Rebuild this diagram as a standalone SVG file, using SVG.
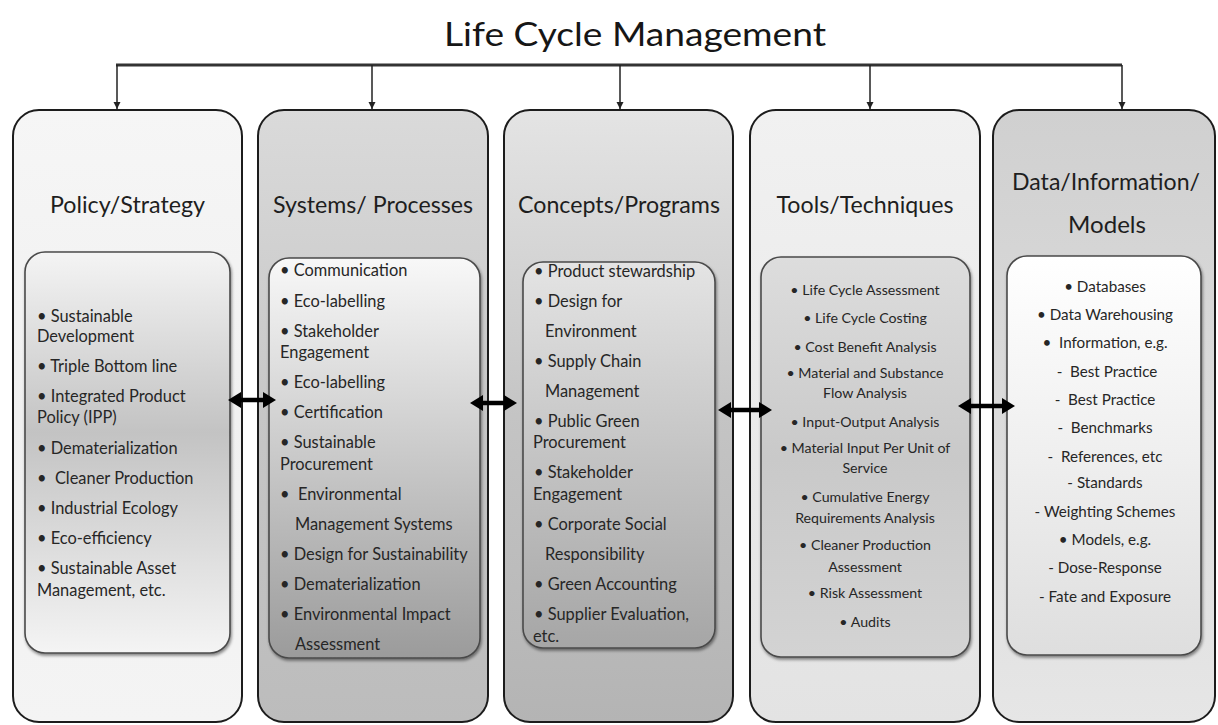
<svg xmlns="http://www.w3.org/2000/svg" width="1218" height="725" viewBox="0 0 1218 725">
<style>
text{font-family:Lato,"Open Sans","Liberation Sans",sans-serif;fill:#262626}
.title{font-size:33px;fill:#161616}
.hd{font-size:24px;text-anchor:middle;fill:#1e1e1e}
.b{font-size:16.4px}
.b4{font-size:14.2px;text-anchor:middle}
.b5{font-size:15.2px;text-anchor:middle}
.outer{stroke:#1c1c1c;stroke-width:2}
.inner{stroke:#4a4a4a;stroke-width:1.6;filter:url(#sh)}
.bus{stroke:#333;stroke-width:3;fill:none}
.drop{stroke:#222;stroke-width:1.5;fill:none;marker-end:url(#ah)}
.dbl{stroke:#000;stroke-width:4.5;fill:none;marker-start:url(#big);marker-end:url(#big)}
</style>
<defs>
<marker id="ah" markerWidth="8" markerHeight="8" refX="7" refY="4" orient="auto" markerUnits="userSpaceOnUse"><path d="M0,0.5 L7,4 L0,7.5 z" fill="#222"/></marker>
<marker id="big" markerWidth="14" markerHeight="16" refX="3" refY="8" orient="auto-start-reverse" markerUnits="userSpaceOnUse"><path d="M0,0 L13,8 L0,16 z" fill="#000"/></marker>
<filter id="sh" x="-10%" y="-10%" width="120%" height="120%"><feDropShadow dx="1" dy="2" stdDeviation="1.5" flood-color="#000" flood-opacity="0.45"/></filter>
<linearGradient id="g1o" x1="0" y1="0" x2="0" y2="1"><stop offset="0" stop-color="#f6f6f6"/><stop offset="0.5" stop-color="#f0f0f0"/><stop offset="1" stop-color="#f4f4f4"/></linearGradient>
<linearGradient id="g2o" x1="0" y1="0" x2="0" y2="1"><stop offset="0" stop-color="#dadada"/><stop offset="0.5" stop-color="#c6c6c6"/><stop offset="1" stop-color="#bcbcbc"/></linearGradient>
<linearGradient id="g3o" x1="0" y1="0" x2="0" y2="1"><stop offset="0" stop-color="#e4e4e4"/><stop offset="0.5" stop-color="#c4c4c4"/><stop offset="1" stop-color="#b4b4b4"/></linearGradient>
<linearGradient id="g4o" x1="0" y1="0" x2="0" y2="1"><stop offset="0" stop-color="#f1f1f1"/><stop offset="0.5" stop-color="#eaeaea"/><stop offset="1" stop-color="#e3e3e3"/></linearGradient>
<linearGradient id="g5o" x1="0" y1="0" x2="0" y2="1"><stop offset="0" stop-color="#d0d0d0"/><stop offset="0.5" stop-color="#dbdbdb"/><stop offset="1" stop-color="#e6e6e6"/></linearGradient>
<linearGradient id="g1i" x1="0" y1="0" x2="0" y2="1"><stop offset="0" stop-color="#f4f4f4"/><stop offset="0.45" stop-color="#c3c3c3"/><stop offset="1" stop-color="#f4f4f4"/></linearGradient>
<linearGradient id="g2i" x1="0" y1="0" x2="0" y2="1"><stop offset="0" stop-color="#f8f8f8"/><stop offset="0.5" stop-color="#c9c9c9"/><stop offset="1" stop-color="#9b9b9b"/></linearGradient>
<linearGradient id="g3i" x1="0" y1="0" x2="0" y2="1"><stop offset="0" stop-color="#e4e4e4"/><stop offset="0.5" stop-color="#c4c4c4"/><stop offset="1" stop-color="#a6a6a6"/></linearGradient>
<linearGradient id="g4i" x1="0" y1="0" x2="0" y2="1"><stop offset="0" stop-color="#dddddd"/><stop offset="0.5" stop-color="#c9c9c9"/><stop offset="1" stop-color="#d3d3d3"/></linearGradient>
<linearGradient id="g5i" x1="0" y1="0" x2="0" y2="1"><stop offset="0" stop-color="#ffffff"/><stop offset="0.5" stop-color="#efefef"/><stop offset="1" stop-color="#dedede"/></linearGradient>
</defs>
<rect width="1218" height="725" fill="#ffffff"/>

<g id="title">
<text class="title" x="635" y="46" text-anchor="middle" textLength="382" lengthAdjust="spacingAndGlyphs">Life Cycle Management</text>
</g>

<g id="policy-strategy">
<rect class="outer" x="13" y="110" width="229" height="612" rx="26" fill="url(#g1o)"/>
<text class="hd" x="127.5" y="213" textLength="155" lengthAdjust="spacingAndGlyphs">Policy/Strategy</text>
<rect class="inner" x="25" y="252" width="205" height="401" rx="20" fill="url(#g1i)"/>
<text class="b" x="37" y="322">• Sustainable</text>
<text class="b" x="37" y="342">Development</text>
<text class="b" x="37" y="372">• Triple Bottom line</text>
<text class="b" x="37" y="402">• Integrated Product</text>
<text class="b" x="37" y="423">Policy (IPP)</text>
<text class="b" x="37" y="454">• Dematerialization</text>
<text class="b" x="37" y="484" xml:space="preserve">•  Cleaner Production</text>
<text class="b" x="37" y="514">• Industrial Ecology</text>
<text class="b" x="37" y="544">• Eco-efficiency</text>
<text class="b" x="37" y="574">• Sustainable Asset</text>
<text class="b" x="37" y="596">Management, etc.</text>
</g>

<g id="systems-processes">
<rect class="outer" x="258" y="110" width="230" height="612" rx="26" fill="url(#g2o)"/>
<text class="hd" x="373" y="213" textLength="200" lengthAdjust="spacingAndGlyphs">Systems/ Processes</text>
<rect class="inner" x="269" y="258" width="211" height="400" rx="20" fill="url(#g2i)"/>
<text class="b" x="280" y="276">• Communication</text>
<text class="b" x="280" y="307">• Eco-labelling</text>
<text class="b" x="280" y="337">• Stakeholder</text>
<text class="b" x="280" y="358">Engagement</text>
<text class="b" x="280" y="388">• Eco-labelling</text>
<text class="b" x="280" y="418">• Certification</text>
<text class="b" x="280" y="448">• Sustainable</text>
<text class="b" x="280" y="470">Procurement</text>
<text class="b" x="280" y="500" xml:space="preserve">•  Environmental</text>
<text class="b" x="295" y="530">Management Systems</text>
<text class="b" x="280" y="560">• Design for Sustainability</text>
<text class="b" x="280" y="590">• Dematerialization</text>
<text class="b" x="280" y="620">• Environmental Impact</text>
<text class="b" x="295" y="650">Assessment</text>
</g>

<g id="concepts-programs">
<rect class="outer" x="504" y="110" width="229" height="612" rx="26" fill="url(#g3o)"/>
<text class="hd" x="619" y="213" textLength="202" lengthAdjust="spacingAndGlyphs">Concepts/Programs</text>
<rect class="inner" x="523" y="262" width="192" height="386" rx="20" fill="url(#g3i)"/>
<text class="b" x="534" y="277">• Product stewardship</text>
<text class="b" x="534" y="307">• Design for</text>
<text class="b" x="545" y="337">Environment</text>
<text class="b" x="534" y="367">• Supply Chain</text>
<text class="b" x="545" y="397">Management</text>
<text class="b" x="534" y="427">• Public Green</text>
<text class="b" x="533" y="448">Procurement</text>
<text class="b" x="534" y="478">• Stakeholder</text>
<text class="b" x="533" y="500">Engagement</text>
<text class="b" x="534" y="530">• Corporate Social</text>
<text class="b" x="545" y="560">Responsibility</text>
<text class="b" x="534" y="590">• Green Accounting</text>
<text class="b" x="534" y="620">• Supplier Evaluation,</text>
<text class="b" x="533" y="642">etc.</text>
</g>

<g id="tools-techniques">
<rect class="outer" x="750" y="110" width="230" height="612" rx="26" fill="url(#g4o)"/>
<text class="hd" x="865" y="213" textLength="177" lengthAdjust="spacingAndGlyphs">Tools/Techniques</text>
<rect class="inner" x="761" y="257" width="209" height="400" rx="20" fill="url(#g4i)"/>
<text class="b4" x="865" y="295">• Life Cycle Assessment</text>
<text class="b4" x="865" y="323">• Life Cycle Costing</text>
<text class="b4" x="865" y="352">• Cost Benefit Analysis</text>
<text class="b4" x="865" y="378">• Material and Substance</text>
<text class="b4" x="865" y="398">Flow Analysis</text>
<text class="b4" x="865" y="427">• Input-Output Analysis</text>
<text class="b4" x="865" y="453">• Material Input Per Unit of</text>
<text class="b4" x="865" y="473">Service</text>
<text class="b4" x="865" y="502">• Cumulative Energy</text>
<text class="b4" x="865" y="523">Requirements Analysis</text>
<text class="b4" x="865" y="550">• Cleaner Production</text>
<text class="b4" x="865" y="572">Assessment</text>
<text class="b4" x="865" y="598">• Risk Assessment</text>
<text class="b4" x="865" y="627">• Audits</text>
</g>

<g id="data-information-models">
<rect class="outer" x="993" y="110" width="222" height="612" rx="26" fill="url(#g5o)"/>
<text class="hd" x="1106" y="190" textLength="188" lengthAdjust="spacingAndGlyphs">Data/Information/</text>
<text class="hd" x="1107" y="233" textLength="78" lengthAdjust="spacingAndGlyphs">Models</text>
<rect class="inner" x="1007" y="256" width="194" height="399" rx="20" fill="url(#g5i)"/>
<text class="b5" x="1105" y="292">• Databases</text>
<text class="b5" x="1105" y="320">• Data Warehousing</text>
<text class="b5" x="1105" y="348" xml:space="preserve">•  Information, e.g.</text>
<text class="b5" x="1107" y="377" xml:space="preserve">-  Best Practice</text>
<text class="b5" x="1105" y="405" xml:space="preserve">-  Best Practice</text>
<text class="b5" x="1105" y="433" xml:space="preserve">-  Benchmarks</text>
<text class="b5" x="1105" y="462" xml:space="preserve">-  References, etc</text>
<text class="b5" x="1105" y="488">- Standards</text>
<text class="b5" x="1105" y="517">- Weighting Schemes</text>
<text class="b5" x="1105" y="545">• Models, e.g.</text>
<text class="b5" x="1105" y="573">- Dose-Response</text>
<text class="b5" x="1105" y="602">- Fate and Exposure</text>
</g>

<g id="connectors">
<path class="bus" d="M116,65 H1122"/>
<path class="drop" d="M117,65 V109"/>
<path class="drop" d="M372,65 V109"/>
<path class="drop" d="M620,65 V109"/>
<path class="drop" d="M870,65 V109"/>
<path class="drop" d="M1122,65 V109"/>
<path class="dbl" d="M238,400 H266"/>
<path class="dbl" d="M480,403 H507"/>
<path class="dbl" d="M728,410 H762"/>
<path class="dbl" d="M968,406 H1005"/>
</g>
</svg>
